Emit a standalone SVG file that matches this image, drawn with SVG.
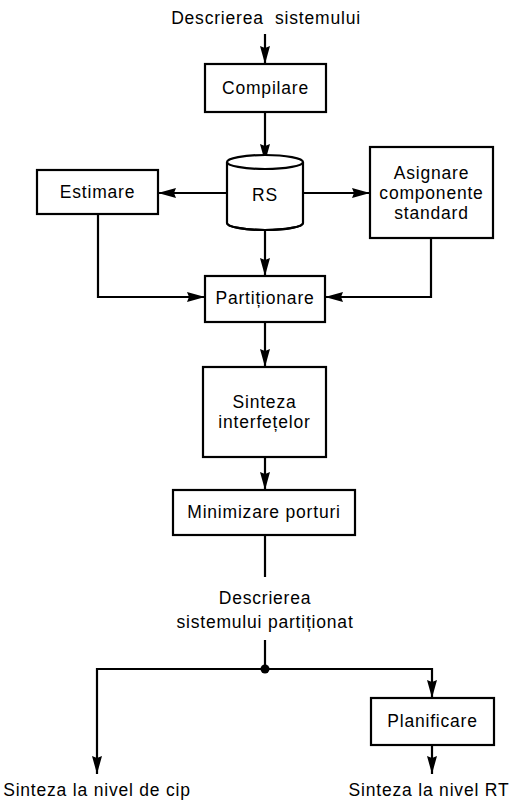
<svg xmlns="http://www.w3.org/2000/svg" width="512" height="800" viewBox="0 0 512 800">
  <defs>
    <marker id="arrow" viewBox="0 0 18 10" refX="18" refY="5" markerWidth="18" markerHeight="10" markerUnits="userSpaceOnUse" orient="auto">
      <path d="M0,0 L18,5 L0,10 L2,5 Z" fill="#000"/>
    </marker>
    <style>
      .box { fill: #fff; stroke: #000; stroke-width: 2.2; }
      .line { fill: none; stroke: #000; stroke-width: 2.2; }
      .arr { marker-end: url(#arrow); }
      text { font-family: "Liberation Sans", Arial, sans-serif; font-size: 17.5px; letter-spacing: 0.8px; fill: #000; text-anchor: middle; dominant-baseline: central; }
    </style>
  </defs>
  <rect width="512" height="800" fill="#fff"/>

  <!-- connectors -->
  <g id="connectors">
    <line class="line arr" x1="265" y1="34" x2="265" y2="64"/>
    <line class="line arr" x1="265" y1="112" x2="265" y2="162"/>
    <line class="line arr" x1="227" y1="193" x2="158" y2="193"/>
    <line class="line arr" x1="303" y1="193" x2="370" y2="193"/>
    <line class="line arr" x1="265" y1="230" x2="265" y2="276"/>
    <polyline class="line arr" points="98,214 98,297 205,297"/>
    <polyline class="line arr" points="431,238 431,297 325,297"/>
    <line class="line arr" x1="265" y1="322" x2="265" y2="367"/>
    <line class="line arr" x1="265" y1="457" x2="265" y2="490"/>
    <line class="line" x1="265" y1="535" x2="265" y2="577"/>
    <line class="line" x1="265" y1="640" x2="265" y2="669"/>
    <polyline class="line arr" points="265,669 97,669 97,774"/>
    <polyline class="line arr" points="265,669 432,669 432,698"/>
    <line class="line arr" x1="432" y1="745" x2="432" y2="774"/>
    <circle cx="265" cy="669" r="4.5" fill="#000"/>
  </g>

  <!-- terminal labels -->
  <g id="input">
    <text x="266" y="18" xml:space="preserve">Descrierea  sistemului</text>
  </g>
  <g id="partitioned">
    <text x="265" y="598">Descrierea</text>
    <text x="265" y="622">sistemului parti&#x021B;ionat</text>
  </g>
  <g id="out-chip">
    <text x="97" y="790">Sinteza la nivel de cip</text>
  </g>
  <g id="out-rt">
    <text x="429" y="790">Sinteza la nivel RT</text>
  </g>

  <!-- process nodes -->
  <g id="compilare">
    <rect class="box" x="205" y="64" width="121" height="48"/>
    <text x="265.5" y="88">Compilare</text>
  </g>
  <g id="rs">
    <path class="box" d="M227,162 A38,7 0 0 1 303,162 V223 A38,7 0 0 1 227,223 Z"/>
    <path class="line" d="M227,162 A38,7 0 0 0 303,162"/>
    <path class="line" d="M227,223 A38,7 0 0 0 303,223"/>
    <text x="265" y="195">RS</text>
  </g>
  <g id="estimare">
    <rect class="box" x="37" y="170" width="121" height="44"/>
    <text x="97.5" y="192">Estimare</text>
  </g>
  <g id="asignare">
    <rect class="box" x="370" y="147" width="123" height="91"/>
    <text x="431.5" y="173">Asignare</text>
    <text x="431.5" y="193">componente</text>
    <text x="431.5" y="213">standard</text>
  </g>
  <g id="partitionare">
    <rect class="box" x="205" y="276" width="120" height="46"/>
    <text x="265" y="298">Parti&#x021B;ionare</text>
  </g>
  <g id="sinteza">
    <rect class="box" x="203" y="367" width="123" height="90"/>
    <text x="264.5" y="402">Sinteza</text>
    <text x="264.5" y="422">interfe&#x021B;elor</text>
  </g>
  <g id="minimizare">
    <rect class="box" x="173" y="490" width="182" height="45"/>
    <text x="264" y="512">Minimizare porturi</text>
  </g>
  <g id="planificare">
    <rect class="box" x="371" y="698" width="123" height="47"/>
    <text x="432.5" y="721">Planificare</text>
  </g>
</svg>
